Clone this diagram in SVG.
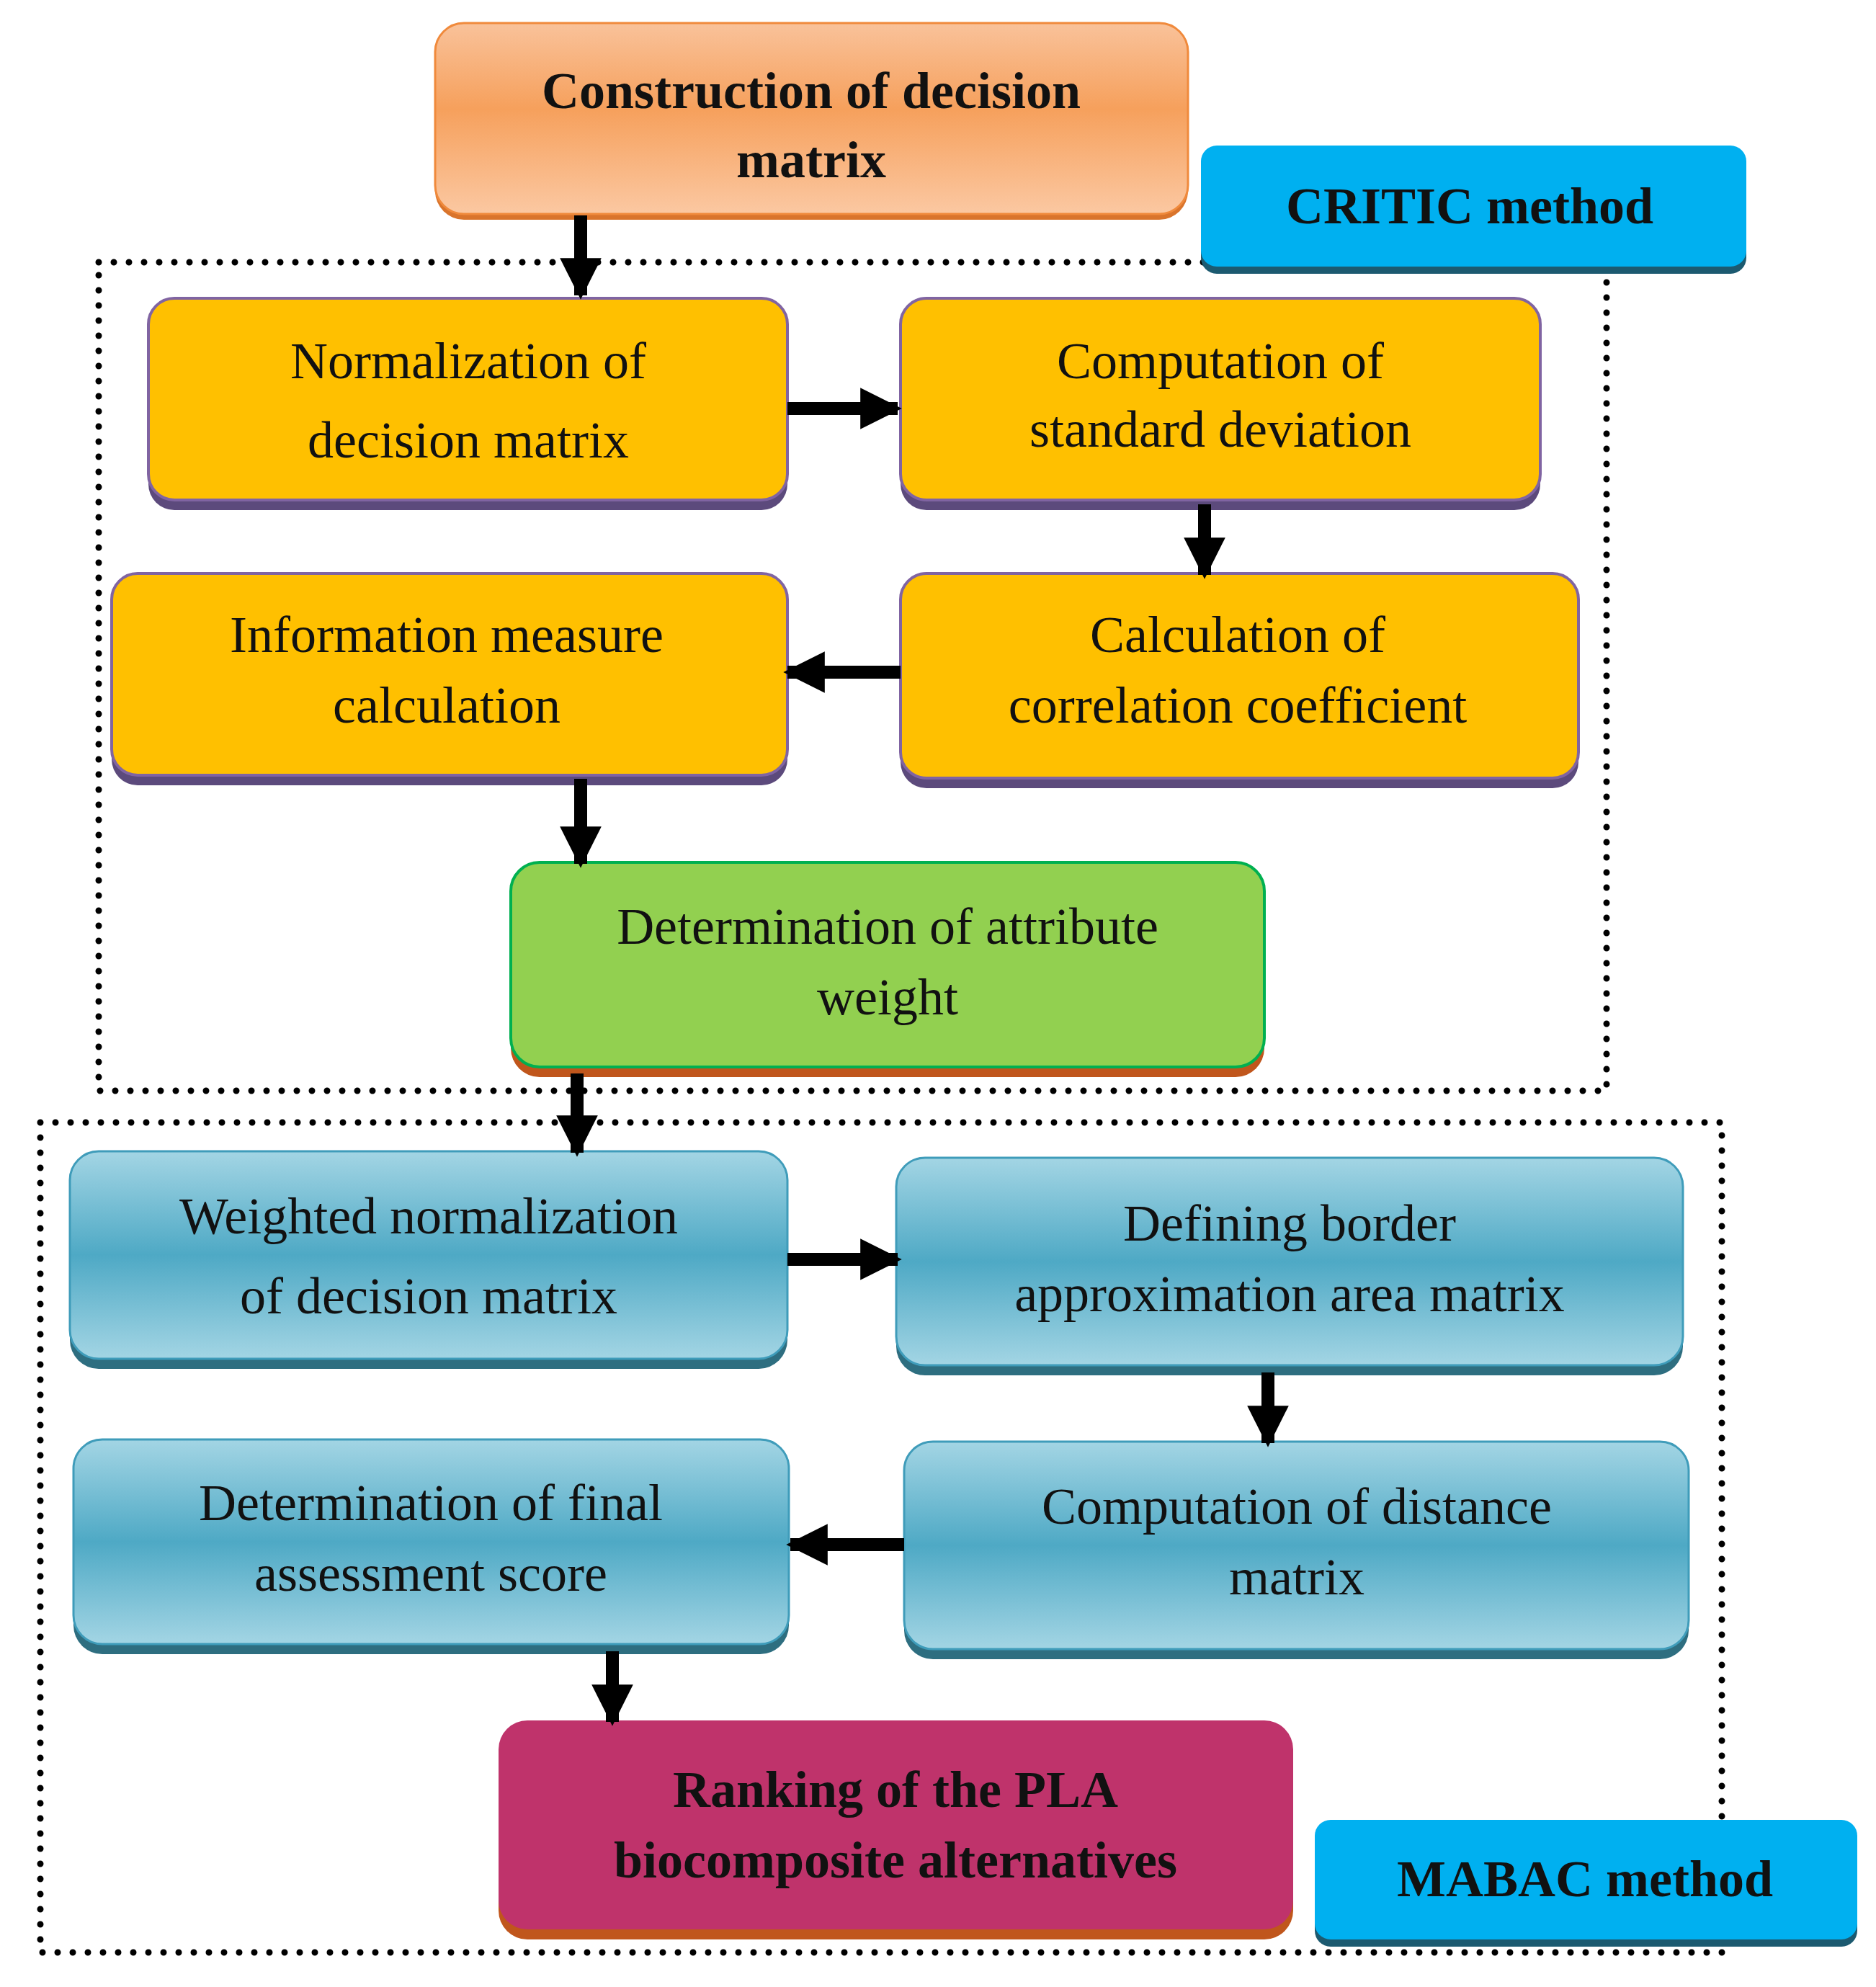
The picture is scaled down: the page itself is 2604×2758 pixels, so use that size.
<svg xmlns="http://www.w3.org/2000/svg" width="2604" height="2758" viewBox="0 0 2604 2758">
<defs>
<linearGradient id="gO" x1="0" y1="0" x2="0" y2="1"><stop offset="0" stop-color="#f9c29a"/><stop offset="0.45" stop-color="#f6a05c"/><stop offset="1" stop-color="#fbc8a2"/></linearGradient>
<linearGradient id="gB" x1="0" y1="0" x2="0" y2="1"><stop offset="0" stop-color="#a3d5e4"/><stop offset="0.5" stop-color="#4ea9c5"/><stop offset="1" stop-color="#a3d5e4"/></linearGradient>
<marker id="ah" viewBox="0 0 10 10" refX="9" refY="5" markerWidth="3.2" markerHeight="3.2" orient="auto" markerUnits="strokeWidth"><path d="M0,0 L10,5 L0,10 Z" fill="#000"/></marker>
</defs>
<style>
text{font-family:"Liberation Serif","Times New Roman",serif;font-size:72px;fill:#111;text-anchor:middle}
.b{font-weight:bold}
.y{fill:#ffc000;stroke:#8064a2;stroke-width:4}
.ys{fill:#5c4a7c}
.bl{fill:url(#gB);stroke:#3f9cba;stroke-width:3}
.bs{fill:#2e6e80}
.dot{fill:none;stroke:#000;stroke-width:9;stroke-dasharray:0 21;stroke-linecap:round}
.c{stroke:#000;stroke-width:18;fill:none;marker-end:url(#ah)}
</style>
<rect width="2604" height="2758" fill="#fff"/>
<rect class="dot" x="137" y="364" width="2093" height="1150"/>
<rect class="dot" x="56" y="1558" width="2334" height="1152"/>
<g id="construction"><rect x="604" y="38" width="1045" height="267" rx="40" fill="#d9742c"/><rect x="604" y="32" width="1045" height="265" rx="40" fill="url(#gO)" stroke="#f08a3c" stroke-width="3"/><text class="b" x="1126" y="150">Construction of decision</text><text class="b" x="1126" y="246">matrix</text></g>
<g id="critic"><rect x="1667" y="210" width="757" height="170" rx="22" fill="#1c5a70"/><rect x="1667" y="202" width="757" height="168" rx="22" fill="#00b0f0"/><text class="b" x="2040" y="310">CRITIC method</text></g>
<g id="norm"><rect class="ys" x="206" y="422" width="887" height="286" rx="36"/><rect class="y" x="206" y="414" width="887" height="280" rx="36"/><text x="650" y="525">Normalization of</text><text x="650" y="635">decision matrix</text></g>
<g id="std"><rect class="ys" x="1250" y="422" width="888" height="286" rx="36"/><rect class="y" x="1250" y="414" width="888" height="280" rx="36"/><text x="1694" y="525">Computation of</text><text x="1694" y="620">standard deviation</text></g>
<g id="info"><rect class="ys" x="155" y="804" width="938" height="286" rx="36"/><rect class="y" x="155" y="796" width="938" height="280" rx="36"/><text x="620" y="905">Information measure</text><text x="620" y="1003">calculation</text></g>
<g id="corr"><rect class="ys" x="1250" y="804" width="941" height="290" rx="36"/><rect class="y" x="1250" y="796" width="941" height="284" rx="36"/><text x="1718" y="905">Calculation of</text><text x="1718" y="1003">correlation coefficient</text></g>
<g id="weight"><rect x="709" y="1205" width="1046" height="290" rx="40" fill="#c0561c"/><rect x="709" y="1197" width="1046" height="284" rx="40" fill="#92d050" stroke="#00b050" stroke-width="4"/><text x="1232" y="1310">Determination of attribute</text><text x="1232" y="1408">weight</text></g>
<g id="weighted"><rect class="bs" x="97" y="1606" width="996" height="294" rx="40"/><rect class="bl" x="97" y="1598" width="996" height="288" rx="40"/><text x="595" y="1712">Weighted normalization</text><text x="595" y="1823">of decision matrix</text></g>
<g id="border"><rect class="bs" x="1244" y="1615" width="1092" height="294" rx="40"/><rect class="bl" x="1244" y="1607" width="1092" height="288" rx="40"/><text x="1790" y="1722">Defining border</text><text x="1790" y="1820">approximation area matrix</text></g>
<g id="final"><rect class="bs" x="102" y="2006" width="993" height="290" rx="40"/><rect class="bl" x="102" y="1998" width="993" height="284" rx="40"/><text x="598" y="2110">Determination of final</text><text x="598" y="2208">assessment score</text></g>
<g id="distance"><rect class="bs" x="1255" y="2009" width="1089" height="294" rx="40"/><rect class="bl" x="1255" y="2001" width="1089" height="288" rx="40"/><text x="1800" y="2115">Computation of distance</text><text x="1800" y="2213">matrix</text></g>
<g id="ranking"><rect x="692" y="2396" width="1103" height="296" rx="40" fill="#c0561c"/><rect x="692" y="2388" width="1103" height="290" rx="40" fill="#bf336b"/><text class="b" x="1243" y="2508">Ranking of the PLA</text><text class="b" x="1243" y="2606">biocomposite alternatives</text></g>
<g id="mabac"><rect x="1825" y="2534" width="753" height="168" rx="22" fill="#1c5a70"/><rect x="1825" y="2526" width="753" height="166" rx="22" fill="#00b0f0"/><text class="b" x="2200" y="2632">MABAC method</text></g>
<g id="connectors">
<line class="c" x1="806" y1="299" x2="806" y2="410"/>
<line class="c" x1="1093" y1="567" x2="1246" y2="567"/>
<line class="c" x1="1672" y1="700" x2="1672" y2="798"/>
<line class="c" x1="1250" y1="933" x2="1093" y2="933"/>
<line class="c" x1="806" y1="1081" x2="806" y2="1199"/>
<line class="c" x1="801" y1="1490" x2="801" y2="1600"/>
<line class="c" x1="1093" y1="1748" x2="1246" y2="1748"/>
<line class="c" x1="1760" y1="1905" x2="1760" y2="2003"/>
<line class="c" x1="1255" y1="2144" x2="1097" y2="2144"/>
<line class="c" x1="850" y1="2292" x2="850" y2="2390"/>
</g>
</svg>
